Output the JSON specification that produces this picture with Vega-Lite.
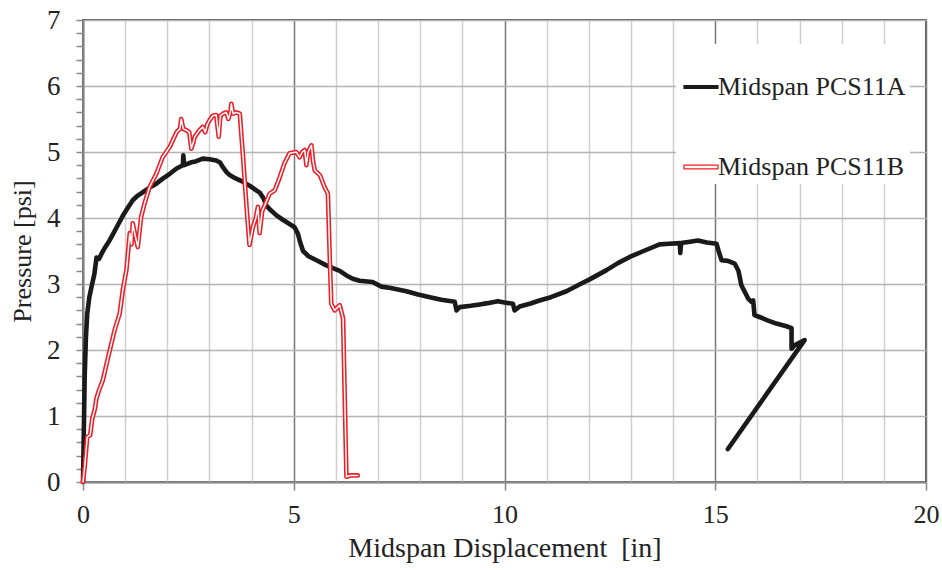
{
"$schema": "https://vega.github.io/schema/vega-lite/v6.json",
"width": 843, "height": 462,
"autosize": {"type": "none"},
"padding": {"left": 83, "top": 20, "right": 16, "bottom": 88},
"background": "white",
"config": {"font": "Liberation Serif", "view": {"stroke": "#222", "strokeWidth": 1.5}},
"data": {"values": [
{"s":"Midspan PCS11A","i":1,"x":0,"y":0},
{"s":"Midspan PCS11A","i":2,"x":0.02,"y":0.8},
{"s":"Midspan PCS11A","i":3,"x":0.04,"y":1.6},
{"s":"Midspan PCS11A","i":4,"x":0.07,"y":2.2},
{"s":"Midspan PCS11A","i":5,"x":0.1,"y":2.55},
{"s":"Midspan PCS11A","i":6,"x":0.15,"y":2.8},
{"s":"Midspan PCS11A","i":7,"x":0.2,"y":2.95},
{"s":"Midspan PCS11A","i":8,"x":0.27,"y":3.15},
{"s":"Midspan PCS11A","i":9,"x":0.32,"y":3.4},
{"s":"Midspan PCS11A","i":10,"x":0.38,"y":3.38},
{"s":"Midspan PCS11A","i":11,"x":0.44,"y":3.46},
{"s":"Midspan PCS11A","i":12,"x":0.52,"y":3.55},
{"s":"Midspan PCS11A","i":13,"x":0.63,"y":3.66},
{"s":"Midspan PCS11A","i":14,"x":0.75,"y":3.8},
{"s":"Midspan PCS11A","i":15,"x":0.85,"y":3.92},
{"s":"Midspan PCS11A","i":16,"x":0.95,"y":4.04},
{"s":"Midspan PCS11A","i":17,"x":1.06,"y":4.15},
{"s":"Midspan PCS11A","i":18,"x":1.18,"y":4.27},
{"s":"Midspan PCS11A","i":19,"x":1.3,"y":4.34},
{"s":"Midspan PCS11A","i":20,"x":1.42,"y":4.39},
{"s":"Midspan PCS11A","i":21,"x":1.58,"y":4.46},
{"s":"Midspan PCS11A","i":22,"x":1.74,"y":4.52},
{"s":"Midspan PCS11A","i":23,"x":1.9,"y":4.6},
{"s":"Midspan PCS11A","i":24,"x":2.06,"y":4.67},
{"s":"Midspan PCS11A","i":25,"x":2.22,"y":4.75},
{"s":"Midspan PCS11A","i":26,"x":2.37,"y":4.8},
{"s":"Midspan PCS11A","i":27,"x":2.38,"y":4.95},
{"s":"Midspan PCS11A","i":28,"x":2.4,"y":4.8},
{"s":"Midspan PCS11A","i":29,"x":2.55,"y":4.84},
{"s":"Midspan PCS11A","i":30,"x":2.69,"y":4.86},
{"s":"Midspan PCS11A","i":31,"x":2.84,"y":4.9},
{"s":"Midspan PCS11A","i":32,"x":3.0,"y":4.89},
{"s":"Midspan PCS11A","i":33,"x":3.16,"y":4.87},
{"s":"Midspan PCS11A","i":34,"x":3.25,"y":4.84},
{"s":"Midspan PCS11A","i":35,"x":3.32,"y":4.77},
{"s":"Midspan PCS11A","i":36,"x":3.4,"y":4.7},
{"s":"Midspan PCS11A","i":37,"x":3.48,"y":4.65},
{"s":"Midspan PCS11A","i":38,"x":3.62,"y":4.6},
{"s":"Midspan PCS11A","i":39,"x":3.79,"y":4.55},
{"s":"Midspan PCS11A","i":40,"x":3.95,"y":4.49},
{"s":"Midspan PCS11A","i":41,"x":4.11,"y":4.42},
{"s":"Midspan PCS11A","i":42,"x":4.2,"y":4.38},
{"s":"Midspan PCS11A","i":43,"x":4.28,"y":4.3},
{"s":"Midspan PCS11A","i":44,"x":4.35,"y":4.19},
{"s":"Midspan PCS11A","i":45,"x":4.45,"y":4.12},
{"s":"Midspan PCS11A","i":46,"x":4.59,"y":4.04},
{"s":"Midspan PCS11A","i":47,"x":4.75,"y":3.97},
{"s":"Midspan PCS11A","i":48,"x":4.9,"y":3.91},
{"s":"Midspan PCS11A","i":49,"x":5.02,"y":3.86},
{"s":"Midspan PCS11A","i":50,"x":5.1,"y":3.76},
{"s":"Midspan PCS11A","i":51,"x":5.14,"y":3.66},
{"s":"Midspan PCS11A","i":52,"x":5.22,"y":3.5},
{"s":"Midspan PCS11A","i":53,"x":5.35,"y":3.42},
{"s":"Midspan PCS11A","i":54,"x":5.54,"y":3.36},
{"s":"Midspan PCS11A","i":55,"x":5.75,"y":3.29},
{"s":"Midspan PCS11A","i":56,"x":5.93,"y":3.24},
{"s":"Midspan PCS11A","i":57,"x":6.09,"y":3.2},
{"s":"Midspan PCS11A","i":58,"x":6.25,"y":3.13},
{"s":"Midspan PCS11A","i":59,"x":6.4,"y":3.08},
{"s":"Midspan PCS11A","i":60,"x":6.56,"y":3.05},
{"s":"Midspan PCS11A","i":61,"x":6.87,"y":3.03},
{"s":"Midspan PCS11A","i":62,"x":7.08,"y":2.96},
{"s":"Midspan PCS11A","i":63,"x":7.3,"y":2.94},
{"s":"Midspan PCS11A","i":64,"x":7.67,"y":2.89},
{"s":"Midspan PCS11A","i":65,"x":7.95,"y":2.84},
{"s":"Midspan PCS11A","i":66,"x":8.23,"y":2.8},
{"s":"Midspan PCS11A","i":67,"x":8.5,"y":2.76},
{"s":"Midspan PCS11A","i":68,"x":8.82,"y":2.73},
{"s":"Midspan PCS11A","i":69,"x":8.86,"y":2.6},
{"s":"Midspan PCS11A","i":70,"x":8.94,"y":2.65},
{"s":"Midspan PCS11A","i":71,"x":9.2,"y":2.67},
{"s":"Midspan PCS11A","i":72,"x":9.41,"y":2.69},
{"s":"Midspan PCS11A","i":73,"x":9.6,"y":2.71},
{"s":"Midspan PCS11A","i":74,"x":9.84,"y":2.74},
{"s":"Midspan PCS11A","i":75,"x":10.0,"y":2.72},
{"s":"Midspan PCS11A","i":76,"x":10.2,"y":2.7},
{"s":"Midspan PCS11A","i":77,"x":10.24,"y":2.6},
{"s":"Midspan PCS11A","i":78,"x":10.36,"y":2.66},
{"s":"Midspan PCS11A","i":79,"x":10.6,"y":2.7},
{"s":"Midspan PCS11A","i":80,"x":10.83,"y":2.75},
{"s":"Midspan PCS11A","i":81,"x":11.1,"y":2.8},
{"s":"Midspan PCS11A","i":82,"x":11.47,"y":2.89},
{"s":"Midspan PCS11A","i":83,"x":11.8,"y":3.0},
{"s":"Midspan PCS11A","i":84,"x":12.02,"y":3.07},
{"s":"Midspan PCS11A","i":85,"x":12.42,"y":3.21},
{"s":"Midspan PCS11A","i":86,"x":12.7,"y":3.32},
{"s":"Midspan PCS11A","i":87,"x":12.97,"y":3.41},
{"s":"Midspan PCS11A","i":88,"x":13.3,"y":3.5},
{"s":"Midspan PCS11A","i":89,"x":13.68,"y":3.6},
{"s":"Midspan PCS11A","i":90,"x":13.9,"y":3.61},
{"s":"Midspan PCS11A","i":91,"x":14.16,"y":3.62},
{"s":"Midspan PCS11A","i":92,"x":14.17,"y":3.47},
{"s":"Midspan PCS11A","i":93,"x":14.19,"y":3.62},
{"s":"Midspan PCS11A","i":94,"x":14.4,"y":3.64},
{"s":"Midspan PCS11A","i":95,"x":14.59,"y":3.66},
{"s":"Midspan PCS11A","i":96,"x":14.8,"y":3.63},
{"s":"Midspan PCS11A","i":97,"x":15.03,"y":3.61},
{"s":"Midspan PCS11A","i":98,"x":15.08,"y":3.5},
{"s":"Midspan PCS11A","i":99,"x":15.15,"y":3.36},
{"s":"Midspan PCS11A","i":100,"x":15.3,"y":3.35},
{"s":"Midspan PCS11A","i":101,"x":15.46,"y":3.31},
{"s":"Midspan PCS11A","i":102,"x":15.55,"y":3.2},
{"s":"Midspan PCS11A","i":103,"x":15.62,"y":2.98},
{"s":"Midspan PCS11A","i":104,"x":15.78,"y":2.78},
{"s":"Midspan PCS11A","i":105,"x":15.86,"y":2.73},
{"s":"Midspan PCS11A","i":106,"x":15.9,"y":2.75},
{"s":"Midspan PCS11A","i":107,"x":15.93,"y":2.53},
{"s":"Midspan PCS11A","i":108,"x":16.05,"y":2.5},
{"s":"Midspan PCS11A","i":109,"x":16.24,"y":2.45},
{"s":"Midspan PCS11A","i":110,"x":16.45,"y":2.4},
{"s":"Midspan PCS11A","i":111,"x":16.69,"y":2.36},
{"s":"Midspan PCS11A","i":112,"x":16.81,"y":2.33},
{"s":"Midspan PCS11A","i":113,"x":16.81,"y":2.02},
{"s":"Midspan PCS11A","i":114,"x":16.88,"y":2.07},
{"s":"Midspan PCS11A","i":115,"x":17.12,"y":2.15},
{"s":"Midspan PCS11A","i":116,"x":15.3,"y":0.5},
{"s":"Midspan PCS11B","i":1,"x":0,"y":0},
{"s":"Midspan PCS11B","i":2,"x":0.04,"y":0.23},
{"s":"Midspan PCS11B","i":3,"x":0.1,"y":0.68},
{"s":"Midspan PCS11B","i":4,"x":0.17,"y":0.71},
{"s":"Midspan PCS11B","i":5,"x":0.22,"y":0.96},
{"s":"Midspan PCS11B","i":6,"x":0.28,"y":1.1},
{"s":"Midspan PCS11B","i":7,"x":0.32,"y":1.27},
{"s":"Midspan PCS11B","i":8,"x":0.38,"y":1.39},
{"s":"Midspan PCS11B","i":9,"x":0.47,"y":1.54},
{"s":"Midspan PCS11B","i":10,"x":0.6,"y":1.9},
{"s":"Midspan PCS11B","i":11,"x":0.75,"y":2.3},
{"s":"Midspan PCS11B","i":12,"x":0.87,"y":2.55},
{"s":"Midspan PCS11B","i":13,"x":0.95,"y":2.93},
{"s":"Midspan PCS11B","i":14,"x":1.03,"y":3.21},
{"s":"Midspan PCS11B","i":15,"x":1.11,"y":3.77},
{"s":"Midspan PCS11B","i":16,"x":1.15,"y":3.6},
{"s":"Midspan PCS11B","i":17,"x":1.18,"y":3.92},
{"s":"Midspan PCS11B","i":18,"x":1.25,"y":3.7},
{"s":"Midspan PCS11B","i":19,"x":1.3,"y":3.56},
{"s":"Midspan PCS11B","i":20,"x":1.38,"y":4.02},
{"s":"Midspan PCS11B","i":21,"x":1.46,"y":4.22},
{"s":"Midspan PCS11B","i":22,"x":1.58,"y":4.47},
{"s":"Midspan PCS11B","i":23,"x":1.74,"y":4.67},
{"s":"Midspan PCS11B","i":24,"x":1.89,"y":4.92},
{"s":"Midspan PCS11B","i":25,"x":2.06,"y":5.08},
{"s":"Midspan PCS11B","i":26,"x":2.22,"y":5.3},
{"s":"Midspan PCS11B","i":27,"x":2.3,"y":5.35},
{"s":"Midspan PCS11B","i":28,"x":2.33,"y":5.5},
{"s":"Midspan PCS11B","i":29,"x":2.38,"y":5.35},
{"s":"Midspan PCS11B","i":30,"x":2.45,"y":5.33},
{"s":"Midspan PCS11B","i":31,"x":2.52,"y":5.3},
{"s":"Midspan PCS11B","i":32,"x":2.57,"y":5.05},
{"s":"Midspan PCS11B","i":33,"x":2.62,"y":5.15},
{"s":"Midspan PCS11B","i":34,"x":2.65,"y":5.23},
{"s":"Midspan PCS11B","i":35,"x":2.75,"y":5.32},
{"s":"Midspan PCS11B","i":36,"x":2.84,"y":5.38},
{"s":"Midspan PCS11B","i":37,"x":2.9,"y":5.3},
{"s":"Midspan PCS11B","i":38,"x":2.95,"y":5.42},
{"s":"Midspan PCS11B","i":39,"x":3.0,"y":5.48},
{"s":"Midspan PCS11B","i":40,"x":3.08,"y":5.55},
{"s":"Midspan PCS11B","i":41,"x":3.16,"y":5.56},
{"s":"Midspan PCS11B","i":42,"x":3.22,"y":5.23},
{"s":"Midspan PCS11B","i":43,"x":3.26,"y":5.55},
{"s":"Midspan PCS11B","i":44,"x":3.32,"y":5.58},
{"s":"Midspan PCS11B","i":45,"x":3.4,"y":5.6},
{"s":"Midspan PCS11B","i":46,"x":3.45,"y":5.5},
{"s":"Midspan PCS11B","i":47,"x":3.5,"y":5.62},
{"s":"Midspan PCS11B","i":48,"x":3.52,"y":5.73},
{"s":"Midspan PCS11B","i":49,"x":3.56,"y":5.58},
{"s":"Midspan PCS11B","i":50,"x":3.64,"y":5.6},
{"s":"Midspan PCS11B","i":51,"x":3.72,"y":5.58},
{"s":"Midspan PCS11B","i":52,"x":3.8,"y":4.9},
{"s":"Midspan PCS11B","i":53,"x":3.88,"y":4.17},
{"s":"Midspan PCS11B","i":54,"x":3.95,"y":3.59},
{"s":"Midspan PCS11B","i":55,"x":4.03,"y":3.86},
{"s":"Midspan PCS11B","i":56,"x":4.1,"y":4.0},
{"s":"Midspan PCS11B","i":57,"x":4.15,"y":4.17},
{"s":"Midspan PCS11B","i":58,"x":4.19,"y":3.77},
{"s":"Midspan PCS11B","i":59,"x":4.25,"y":4.1},
{"s":"Midspan PCS11B","i":60,"x":4.31,"y":4.19},
{"s":"Midspan PCS11B","i":61,"x":4.43,"y":4.37},
{"s":"Midspan PCS11B","i":62,"x":4.55,"y":4.42},
{"s":"Midspan PCS11B","i":63,"x":4.67,"y":4.62},
{"s":"Midspan PCS11B","i":64,"x":4.78,"y":4.83},
{"s":"Midspan PCS11B","i":65,"x":4.9,"y":4.98},
{"s":"Midspan PCS11B","i":66,"x":5.06,"y":5.0},
{"s":"Midspan PCS11B","i":67,"x":5.14,"y":4.92},
{"s":"Midspan PCS11B","i":68,"x":5.2,"y":5.0},
{"s":"Midspan PCS11B","i":69,"x":5.26,"y":5.03},
{"s":"Midspan PCS11B","i":70,"x":5.3,"y":4.8},
{"s":"Midspan PCS11B","i":71,"x":5.34,"y":5.0},
{"s":"Midspan PCS11B","i":72,"x":5.42,"y":5.1},
{"s":"Midspan PCS11B","i":73,"x":5.46,"y":4.85},
{"s":"Midspan PCS11B","i":74,"x":5.5,"y":4.72},
{"s":"Midspan PCS11B","i":75,"x":5.62,"y":4.65},
{"s":"Midspan PCS11B","i":76,"x":5.73,"y":4.47},
{"s":"Midspan PCS11B","i":77,"x":5.81,"y":4.37},
{"s":"Midspan PCS11B","i":78,"x":5.85,"y":3.5},
{"s":"Midspan PCS11B","i":79,"x":5.89,"y":2.7},
{"s":"Midspan PCS11B","i":80,"x":5.97,"y":2.6},
{"s":"Midspan PCS11B","i":81,"x":6.09,"y":2.68},
{"s":"Midspan PCS11B","i":82,"x":6.17,"y":2.48},
{"s":"Midspan PCS11B","i":83,"x":6.25,"y":0.08},
{"s":"Midspan PCS11B","i":84,"x":6.35,"y":0.1},
{"s":"Midspan PCS11B","i":85,"x":6.52,"y":0.1}
]},
"encoding": {
  "x": {"field": "x", "type": "quantitative",
    "scale": {"domain": [0, 20], "nice": false, "zero": false},
    "axis": {
      "values": [0,1,2,3,4,5,6,7,8,9,10,11,12,13,14,15,16,17,18,19,20],
      "title": "Midspan Displacement\u00a0 [in]",
      "titleFont": "Liberation Serif", "titleFontSize": 28, "titleFontWeight": "normal", "titleColor": "#222",
      "titleY": 74, "titleBaseline": "alphabetic",
      "labelExpr": "datum.value % 5 === 0 ? datum.label : ''",
      "labelFont": "Liberation Serif", "labelFontSize": 26, "labelColor": "#222", "labelPadding": 11,
      "labelOverlap": false, "labelFlush": false, "labelBound": false,
      "tickSize": 8, "tickWidth": 1.5,
      "tickColor": {"condition": {"test": "datum.value % 5 === 0", "value": "#888888"}, "value": "rgba(0,0,0,0)"},
      "domainColor": "#888888", "domainWidth": 2,
      "grid": true, "gridWidth": 1.5,
      "gridColor": {"condition": {"test": "datum.value % 5 === 0", "value": "#777777"}, "value": "#cfcfcf"}
    }},
  "y": {"field": "y", "type": "quantitative",
    "scale": {"domain": [0, 7], "nice": false, "zero": false},
    "axis": {
      "values": [0,0.2,0.4,0.6,0.8,1,1.2,1.4,1.6,1.8,2,2.2,2.4,2.6,2.8,3,3.2,3.4,3.6,3.8,4,4.2,4.4,4.6,4.8,5,5.2,5.4,5.6,5.8,6,6.2,6.4,6.6,6.8,7],
      "title": "Pressure [psi]",
      "titleFont": "Liberation Serif", "titleFontSize": 26, "titleFontWeight": "normal", "titleColor": "#222",
      "titleX": -53, "titleY": 231, "titleBaseline": "alphabetic", "titleAlign": "center", "titleAngle": -90,
      "labelExpr": "datum.value % 1 === 0 ? format(datum.value, 'd') : ''",
      "labelFont": "Liberation Serif", "labelFontSize": 27, "labelColor": "#222", "labelPadding": 16,
      "labelOverlap": false, "labelFlush": false, "labelBound": false,
      "tickSize": 7, "tickWidth": 1.5, "tickColor": "#888888",
      "domainColor": "#888888", "domainWidth": 2,
      "grid": true, "gridWidth": 1.5, "gridColor": "#b4b4b4",
      "gridOpacity": {"condition": {"test": "datum.value % 1 === 0", "value": 1}, "value": 0}
    }},
  "order": {"field": "i", "type": "quantitative"}
},
"layer": [
  {"mark": {"type": "line", "strokeWidth": 4.6, "strokeJoin": "round", "strokeCap": "round"},
   "encoding": {
     "color": {"field": "s", "type": "nominal",
       "scale": {"domain": ["Midspan PCS11A", "Midspan PCS11B"], "range": ["#1a1a1a", "#ee1c25"]},
       "legend": {
         "orient": "none", "legendX": 593, "legendY": 24, "title": null,
         "fillColor": "white", "padding": 4, "rowPadding": 28,
         "symbolType": "M-0.447,-0.04H0.447V0.04H-0.447Z", "symbolSize": 5776, "symbolStrokeWidth": 1.2,
         "symbolOffset": -18, "labelOffset": -22,
         "labelFont": "Liberation Serif", "labelFontSize": 26, "labelColor": "#222", "labelLimit": 0,
         "encode": {"symbols": {"update": {
           "fill": {"signal": "datum.value === 'Midspan PCS11A' ? '#1a1a1a' : '#ffffff'"},
           "stroke": {"signal": "datum.value === 'Midspan PCS11A' ? '#1a1a1a' : '#ee1c25'"},
           "shape": {"signal": "datum.value === 'Midspan PCS11A' ? 'M-0.447,-0.035H0.447V0.035H-0.447Z' : 'M-0.447,-0.05H0.447V0.05H-0.447Z'"}
         }}}
       }}
   }},
  {"transform": [{"filter": "datum.s === 'Midspan PCS11B'"}],
   "mark": {"type": "line", "strokeWidth": 1.5, "color": "white", "strokeJoin": "round", "strokeCap": "round"}}
]
}
